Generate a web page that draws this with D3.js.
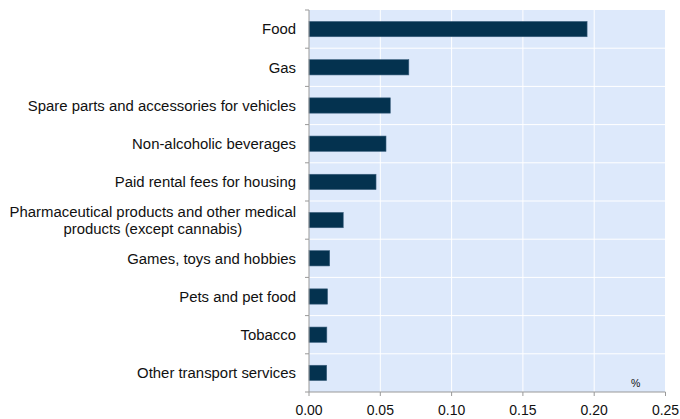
<!DOCTYPE html>
<html>
<head>
<meta charset="utf-8">
<script src="https://cdn.jsdelivr.net/npm/d3@7"></script>
<style>
  body { margin: 0; background: #fff; }
  svg { display: block; font-family: "Liberation Sans", Arial, sans-serif; }
</style>
</head>
<body>
<div class="chart"></div>
<script>
var categories = [
  "Food",
  "Gas",
  "Spare parts and accessories for vehicles",
  "Non-alcoholic beverages",
  "Paid rental fees for housing",
  "Pharmaceutical products and other medical|products (except cannabis)",
  "Games, toys and hobbies",
  "Pets and pet food",
  "Tobacco",
  "Other transport services"
];
var values = [0.195, 0.070, 0.057, 0.054, 0.047, 0.024, 0.0145, 0.013, 0.0125, 0.0124];
var xTicks = [0, 0.05, 0.10, 0.15, 0.20, 0.25];
var unitLabel = "%";

var width = 680, height = 419;
var margin = {top: 10, right: 14.5, bottom: 27, left: 309};
var plotW = width - margin.left - margin.right;
var plotH = height - margin.top - margin.bottom;

var x = d3.scaleLinear().domain([0, 0.25]).range([0, plotW]);
var y = d3.scaleBand().domain(d3.range(categories.length)).range([0, plotH]).paddingInner(0.6).paddingOuter(0.3);
var band = d3.scaleBand().domain(d3.range(categories.length)).range([0, plotH]);

var svg = d3.select(".chart").append("svg")
  .attr("width", width)
  .attr("height", height);

var g = svg.append("g").attr("transform", `translate(${margin.left}, ${margin.top})`);

g.append("rect")
  .attr("width", plotW)
  .attr("height", plotH)
  .attr("fill", "#dde9fb");

// gridlines
g.selectAll(".vgrid")
  .data(xTicks.slice(1))
  .enter().append("line")
    .attr("x1", d => x(d)).attr("x2", d => x(d))
    .attr("y1", 0).attr("y2", plotH)
    .attr("stroke", "#fff").attr("stroke-width", 1);

g.selectAll(".hgrid")
  .data(d3.range(1, categories.length))
  .enter().append("line")
    .attr("x1", 0).attr("x2", plotW)
    .attr("y1", d => band(d)).attr("y2", d => band(d))
    .attr("stroke", "#fff").attr("stroke-width", 1);

// bars
g.selectAll(".bar")
  .data(values)
  .enter().append("rect")
    .attr("x", 0)
    .attr("y", (d, i) => y(i))
    .attr("width", d => x(d))
    .attr("height", y.bandwidth())
    .attr("fill", "#04324f")
    .attr("stroke", "#3b5f7d")
    .attr("stroke-width", 0.6);

// left axis
var gY = g.append("g");
gY.append("line")
  .attr("x1", 0).attr("x2", 0).attr("y1", 0).attr("y2", plotH)
  .attr("stroke", "#999");
gY.selectAll(".ytick")
  .data(d3.range(0, categories.length + 1))
  .enter().append("line")
    .attr("x1", -4).attr("x2", 0)
    .attr("y1", d => d < categories.length ? band(d) : plotH)
    .attr("y2", d => d < categories.length ? band(d) : plotH)
    .attr("stroke", "#999");

categories.forEach(function(c, i) {
  var lines = c.split("|");
  var cy = band(i) + band.bandwidth() / 2;
  var t = gY.append("text")
    .attr("font-size", 14.9)
    .attr("fill", "#111");
  lines.forEach(function(l, k) {
    t.append("tspan")
      .attr("x", 0)
      .attr("y", cy + (k - (lines.length - 1) / 2) * 17)
      .attr("dy", "0.35em")
      .text(l);
  });
  // right-align the block, centre the lines inside it
  var w = t.node().getBBox().width;
  t.attr("text-anchor", "middle")
    .selectAll("tspan").attr("x", -13 - w / 2);
});

// bottom axis
var gX = g.append("g").attr("transform", `translate(0, ${plotH})`);
gX.append("line")
  .attr("x1", 0).attr("x2", plotW)
  .attr("stroke", "#999");
gX.selectAll(".xtick")
  .data(xTicks)
  .enter().append("line")
    .attr("x1", d => x(d)).attr("x2", d => x(d))
    .attr("y1", 0).attr("y2", 4)
    .attr("stroke", "#999");
gX.selectAll(".xlabel")
  .data(xTicks)
  .enter().append("text")
    .attr("x", d => x(d))
    .attr("y", 18)
    .attr("dy", "0.35em")
    .attr("text-anchor", "middle")
    .attr("font-size", 14)
    .attr("fill", "#111")
    .text(d3.format(".2f"));

g.append("text")
  .attr("x", x(0.229))
  .attr("y", plotH - 5)
  .attr("text-anchor", "middle")
  .attr("font-size", 10.5)
  .attr("fill", "#111")
  .text(unitLabel);
</script>
</body>
</html>
